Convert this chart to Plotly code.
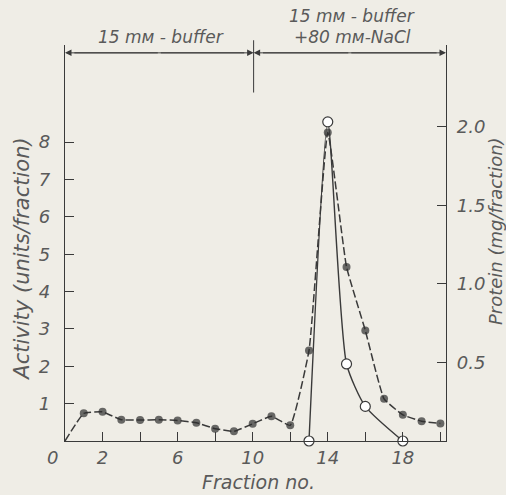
import plotly.graph_objects as go

# Data
fractions_act = [0, 1, 2, 3, 4, 5, 6, 7, 8, 9, 10, 11, 12, 13, 14, 15, 16, 17, 18, 19, 20]
activity = [0.0, 0.74, 0.78, 0.57, 0.56, 0.57, 0.55, 0.49, 0.33, 0.26, 0.46, 0.66, 0.42,
            2.42, 8.26, 4.66, 2.96, 1.13, 0.70, 0.53, 0.47]
fractions_prot = [13, 14, 15, 16, 18]
protein = [0.0, 2.03, 0.49, 0.22, 0.0]

x_tickvals = [0, 2, 4, 6, 8, 10, 12, 14, 16, 18, 20]
x_ticktext = ["", "2", "", "6", "", "10", "", "14", "", "18", ""]
y_tickvals = [1, 2, 3, 4, 5, 6, 7, 8]
y2_tickvals = [0.5, 1.0, 1.5, 2.0]
y2_ticktext = ["0.5", "1.0", "1.5", "2.0"]

BG = "#efede6"
INK = "#3a3a3a"
DOT = "#2e2e2e"
TXT = "#5a5a5a"
FONT = "DejaVu Sans"

fig = go.Figure()

fig.add_trace(go.Scatter(
    x=fractions_act, y=activity, mode="lines+markers",
    line=dict(color=INK, width=1.5, dash="8px,3px", shape="spline", smoothing=0.35),
    marker=dict(size=[0] + [8] * (len(activity) - 1), color=DOT, line=dict(width=0)),
    yaxis="y", showlegend=False, cliponaxis=False,
))
fig.add_trace(go.Scatter(
    x=fractions_prot, y=protein, mode="lines+markers",
    line=dict(color=INK, width=1.4, shape="spline", smoothing=0.6),
    marker=dict(size=10, color="white", line=dict(color=INK, width=1.2)),
    yaxis="y2", showlegend=False, cliponaxis=False,
))

tickfont = dict(family=FONT, size=18, color=TXT, style="italic")

fig.update_layout(
    width=506, height=495,
    margin=dict(l=65, r=60, t=45, b=53.5),
    paper_bgcolor=BG, plot_bgcolor=BG,
    xaxis=dict(range=[0, 20.3], showgrid=False, zeroline=False, showline=True,
               linecolor=INK, linewidth=1.3, ticks="inside", ticklen=9, tickwidth=1,
               tickcolor=INK, tickvals=x_tickvals, ticktext=x_ticktext,
               tickfont=tickfont, ticklabelstandoff=0),
    yaxis=dict(range=[0, 10.6], showgrid=False, zeroline=False, showline=True,
               linecolor=INK, linewidth=1.3, ticks="inside", ticklen=9, tickwidth=1,
               tickcolor=INK, tickvals=y_tickvals, tickfont=tickfont,
               ticklabelstandoff=10),
    yaxis2=dict(range=[0, 2.519], overlaying="y", side="right", showgrid=False,
                zeroline=False, showline=True, linecolor=INK, linewidth=1.3,
                ticks="inside", ticklen=9, tickwidth=1, tickcolor=INK,
                tickvals=y2_tickvals, ticktext=y2_ticktext, tickfont=tickfont,
                ticklabelstandoff=6),
)

ann_font = dict(family=FONT, size=17, color=TXT, style="italic")

annotations = [
    dict(text="0", x=0, y=0, xref="paper", yref="paper", xanchor="center", yanchor="middle",
         xshift=-13, yshift=-16, showarrow=False, font=tickfont),
    dict(text="Fraction no.", x=10.3, xref="x", y=-0.07, yref="paper", yanchor="top",
         showarrow=False, font=dict(family=FONT, size=19, color=TXT, style="italic")),
    dict(text="Activity (units/fraction)", x=0, xref="paper", xshift=-43,
         xanchor="center", yanchor="middle",
         y=0.458, yref="paper", textangle=-90, showarrow=False,
         font=dict(family=FONT, size=21, color=TXT, style="italic")),
    dict(text="Protein (mg/fraction)", x=1, xref="paper", xshift=49, y=0.53, yref="paper",
         xanchor="center", yanchor="middle",
         textangle=-90, showarrow=False,
         font=dict(family=FONT, size=18, color=TXT, style="italic")),
    dict(text="15 mᴍ - buffer", x=5.1, y=1.0202, xref="x", yref="paper",
         yanchor="middle", showarrow=False, font=ann_font),
    dict(text="15 mᴍ - buffer", x=15.3, y=1.0731, xref="x", yref="paper",
         yanchor="middle", showarrow=False, font=ann_font),
    dict(text="+80 mᴍ-NaCl", x=15.3, y=1.0202, xref="x", yref="paper",
         yanchor="middle", showarrow=False, font=ann_font),
]

# double-headed arrows along the top
arrow_y = 10.39
for x0, x1 in [(0, 10.05), (10.05, 20.3)]:
    mid = (x0 + x1) / 2
    for end in (x0, x1):
        annotations.append(dict(
            x=end, y=arrow_y, ax=mid, ay=arrow_y, xref="x", yref="y", axref="x", ayref="y",
            showarrow=True, arrowhead=2, arrowsize=1.3, arrowwidth=1, arrowcolor=INK, text="",
        ))
    fig.add_shape(type="line", x0=x0 + 0.5, x1=x1 - 0.5, y0=arrow_y, y1=arrow_y,
                  xref="x", yref="y", line=dict(color=INK, width=1))

fig.update_layout(annotations=annotations)

fig.add_shape(type="line", x0=10.05, x1=10.05, y0=1.012, y1=0.88, xref="x", yref="paper",
              line=dict(color=INK, width=1))

fig.write_html("out.html")
